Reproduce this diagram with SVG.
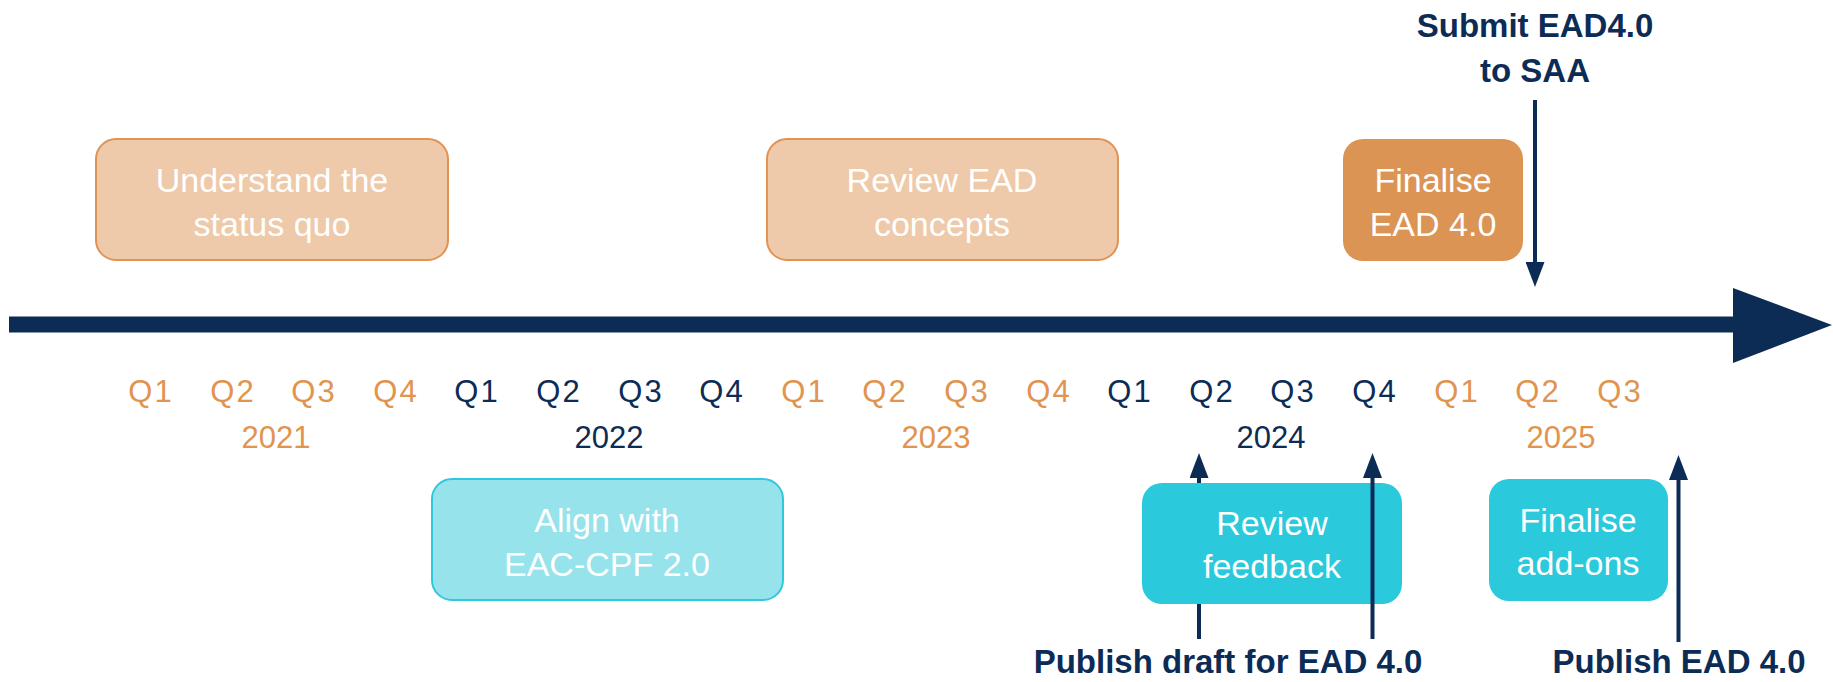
<svg xmlns="http://www.w3.org/2000/svg" width="1833" height="682" viewBox="0 0 1833 682">
<style>
.bt{font-family:"Liberation Sans",Arial,sans-serif;font-size:34px;fill:#ffffff;text-anchor:middle}
.lbl{font-family:"Liberation Sans",Arial,sans-serif;font-size:33px;font-weight:bold;fill:#0C2C56;text-anchor:middle}
.q{font-family:"Liberation Sans",Arial,sans-serif;font-size:31px;text-anchor:middle;letter-spacing:2px}
.yr{font-family:"Liberation Sans",Arial,sans-serif;font-size:31px;text-anchor:middle}
.o{fill:#E0944F}
.n{fill:#0C2C56}
.lo{fill:#EECAAA;stroke:#DF9354;stroke-width:2}
.do{fill:#DC9455}
.lc{fill:#97E3EC;stroke:#2EC9DC;stroke-width:2}
.c{fill:#2BC9DC}
.arr{stroke:#0C2C56;stroke-width:4;fill:none;marker-end:url(#head)}
</style>
<defs>
<marker id="head" markerUnits="userSpaceOnUse" markerWidth="25" markerHeight="19" refX="0" refY="9.5" orient="auto">
<path d="M0,0 L25,9.5 L0,19 z" fill="#0C2C56"/>
</marker>
</defs>
<rect width="1833" height="682" fill="#ffffff"/>

<g id="timeline">
<rect x="9" y="316.5" width="1726" height="16" fill="#0C2C56"/>
<polygon points="1733,288 1832,325 1733,363" fill="#0C2C56"/>
</g>

<g id="axis-labels">
<text class="q o" x="151" y="402">Q1</text>
<text class="q o" x="233" y="402">Q2</text>
<text class="q o" x="314" y="402">Q3</text>
<text class="q o" x="396" y="402">Q4</text>
<text class="q n" x="477" y="402">Q1</text>
<text class="q n" x="559" y="402">Q2</text>
<text class="q n" x="641" y="402">Q3</text>
<text class="q n" x="722" y="402">Q4</text>
<text class="q o" x="804" y="402">Q1</text>
<text class="q o" x="885" y="402">Q2</text>
<text class="q o" x="967" y="402">Q3</text>
<text class="q o" x="1049" y="402">Q4</text>
<text class="q n" x="1130" y="402">Q1</text>
<text class="q n" x="1212" y="402">Q2</text>
<text class="q n" x="1293" y="402">Q3</text>
<text class="q n" x="1375" y="402">Q4</text>
<text class="q o" x="1457" y="402">Q1</text>
<text class="q o" x="1538" y="402">Q2</text>
<text class="q o" x="1620" y="402">Q3</text>
<text class="yr o" x="276" y="448">2021</text>
<text class="yr n" x="609" y="448">2022</text>
<text class="yr o" x="936" y="448">2023</text>
<text class="yr n" x="1271" y="448">2024</text>
<text class="yr o" x="1561" y="448">2025</text>
</g>

<g id="understand">
<rect class="lo" x="96" y="139" width="352" height="121" rx="20"/>
<text class="bt" x="272" y="192">Understand the</text>
<text class="bt" x="272" y="236">status quo</text>
</g>

<g id="review-concepts">
<rect class="lo" x="767" y="139" width="351" height="121" rx="20"/>
<text class="bt" x="942" y="192">Review EAD</text>
<text class="bt" x="942" y="236">concepts</text>
</g>

<g id="finalise-ead">
<rect class="do" x="1343" y="139" width="180" height="122" rx="20"/>
<text class="bt" x="1433" y="192">Finalise</text>
<text class="bt" x="1433" y="236">EAD 4.0</text>
</g>

<g id="align">
<rect class="lc" x="432" y="479" width="351" height="121" rx="20"/>
<text class="bt" x="607" y="532">Align with</text>
<text class="bt" x="607" y="576">EAC-CPF 2.0</text>
</g>

<g id="review-feedback">
<rect class="c" x="1142" y="483" width="260" height="121" rx="20"/>
<text class="bt" x="1272" y="535">Review</text>
<text class="bt" x="1272" y="578">feedback</text>
</g>

<g id="finalise-addons">
<rect class="c" x="1489" y="479" width="179" height="122" rx="20"/>
<text class="bt" x="1578" y="532">Finalise</text>
<text class="bt" x="1578" y="575">add-ons</text>
</g>

<g id="submit-label">
<text class="lbl" x="1535" y="37">Submit EAD4.0</text>
<text class="lbl" x="1535" y="82">to SAA</text>
</g>

<g id="publish-draft-label">
<text class="lbl" x="1228" y="673">Publish draft for EAD 4.0</text>
</g>

<g id="publish-label">
<text class="lbl" x="1679" y="673">Publish EAD 4.0</text>
</g>

<g id="connectors">
<path class="arr" d="M1535,100 L1535,262"/>
<path class="arr" d="M1199,639 L1199,604 M1199,483 L1199,478"/>
<path class="arr" d="M1372.5,639 L1372.5,478"/>
<path class="arr" d="M1678.5,642 L1678.5,480"/>
</g>
</svg>
